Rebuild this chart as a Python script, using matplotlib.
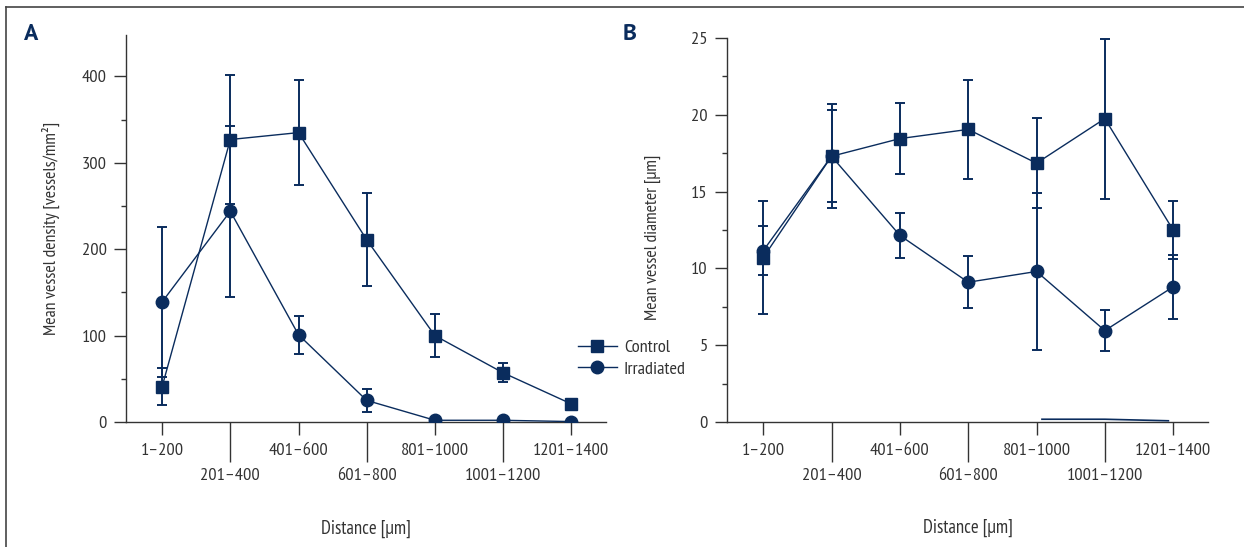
import matplotlib
matplotlib.use("Agg")
import matplotlib.pyplot as plt
from matplotlib.lines import Line2D
from matplotlib.ticker import MultipleLocator

plt.rcParams['font.family'] = ['PT Sans Narrow', 'Roboto Condensed', 'DejaVu Sans']

navy = '#0a2c5d'
grey = '#333333'

distances = ["1–200", "201–400", "401–600", "601–800", "801–1000", "1001–1200", "1201–1400"]

# panel A: vessel density [vessels/mm2]
density_control = [41, 327, 335, 211, 100, 57, 21]
density_control_err = [21, 75, 61, 54, 25, 11, 6]
density_irradiated = [139, 244, 101, 25, 2, 2, 0.5]
density_irradiated_err = [87, 99, 22, 13, 0, 0, 0]

# panel B: vessel diameter [um]
diameter_control = [10.7, 17.3, 18.45, 19.05, 16.85, 19.75, 12.5]
diameter_control_err = [3.7, 3.4, 2.3, 3.2, 2.95, 5.2, 1.9]
diameter_irradiated = [11.15, 17.3, 12.15, 9.1, 9.8, 5.95, 8.8]
diameter_irradiated_err = [1.6, 3.0, 1.45, 1.7, 5.1, 1.35, 2.1]

# stray near-zero line in panel B
stray_x = [4.08, 5.0, 5.93]
stray_y = [0.18, 0.18, 0.08]

TICK_FS = 13.2
XLABEL_FS = 13.5
YLABEL_FS = 12.8


def style_axis(ax, ymax, major, minor):
    ax.spines['top'].set_visible(False)
    ax.spines['right'].set_visible(False)
    for s in ('left', 'bottom'):
        ax.spines[s].set_color(grey)
        ax.spines[s].set_linewidth(1.0)
    ax.set_xlim(-0.53, 6.51)
    ax.set_ylim(0, ymax)
    ax.yaxis.set_major_locator(MultipleLocator(major))
    ax.yaxis.set_minor_locator(MultipleLocator(minor))
    ax.set_xticks([0, 2, 4, 6])
    ax.set_xticklabels([distances[i] for i in [0, 2, 4, 6]])
    ax.set_xticks([1, 3, 5], minor=True)
    ax.set_xticklabels([distances[i] for i in [1, 3, 5]], minor=True)
    ax.tick_params(axis='x', which='major', length=9.4, width=1.0, pad=6,
                   color=grey, labelcolor=grey, labelsize=TICK_FS)
    ax.tick_params(axis='x', which='minor', length=28.8, width=1.0, pad=4.5,
                   color=grey, labelcolor=grey, labelsize=TICK_FS)
    ax.tick_params(axis='y', which='major', length=9, width=1.0, pad=5,
                   color=grey, labelcolor=grey, labelsize=TICK_FS)
    ax.tick_params(axis='y', which='minor', length=3.6, width=1.0,
                   color=grey)
    ax.set_xlabel("Distance [μm]", fontsize=XLABEL_FS, color=grey)
    ax.xaxis.set_label_coords(0.5, -0.253)


def draw_series(ax, y, err, marker):
    x = list(range(len(y)))
    ax.errorbar(x, y, yerr=err, fmt='none', ecolor=navy, elinewidth=1.4,
                capsize=3.5, capthick=1.4, zorder=2)
    line, = ax.plot(x, y, '-', marker=marker, color=navy, lw=1.0, ms=9,
                    zorder=3)
    return line


fig = plt.figure(figsize=(12.44, 5.47), dpi=100)
axA = fig.add_axes([126 / 1244, 125 / 547, 480 / 1244, 387 / 547])
axB = fig.add_axes([727 / 1244, 125 / 547, 481 / 1244, 384 / 547])

style_axis(axA, 448, 100, 50)
lc = draw_series(axA, density_control, density_control_err, 's')
li = draw_series(axA, density_irradiated, density_irradiated_err, 'o')
axA.set_ylabel("Mean vessel density [vessels/mm²]", fontsize=YLABEL_FS, color=grey)
axA.yaxis.set_label_coords(-0.1375, 0.5)

style_axis(axB, 25, 5, 2.5)
draw_series(axB, diameter_control, diameter_control_err, 's')
draw_series(axB, diameter_irradiated, diameter_irradiated_err, 'o')
axB.plot(stray_x, stray_y, color=navy, lw=1.2, zorder=3)
axB.set_ylabel("Mean vessel diameter [μm]", fontsize=YLABEL_FS, color=grey)
axB.yaxis.set_label_coords(-0.137, 0.48)

fig.legend([lc, li], ["Control", "Irradiated"], loc='center left',
           bbox_to_anchor=(578 / 1244, 1 - 358.5 / 547), frameon=False,
           borderpad=0, borderaxespad=0, handlelength=2.1, handletextpad=0.4,
           labelspacing=0.25, fontsize=TICK_FS, labelcolor=grey)

fig.text(24 / 1244, 1 - 35 / 547, "A", fontsize=17, fontweight='bold',
         color=navy, va='center', ha='left', family='PT Sans')
fig.text(623 / 1244, 1 - 35 / 547, "B", fontsize=17, fontweight='bold',
         color=navy, va='center', ha='left', family='PT Sans')

# figure frame, top and left only
fig.add_artist(Line2D([6 / 1244, 1], [1 - 7 / 547, 1 - 7 / 547],
                      transform=fig.transFigure, color='#444444', lw=1.2))
fig.add_artist(Line2D([6 / 1244, 6 / 1244], [0, 1 - 7 / 547],
                      transform=fig.transFigure, color='#444444', lw=1.2))

fig.savefig("out.png", dpi=100)
